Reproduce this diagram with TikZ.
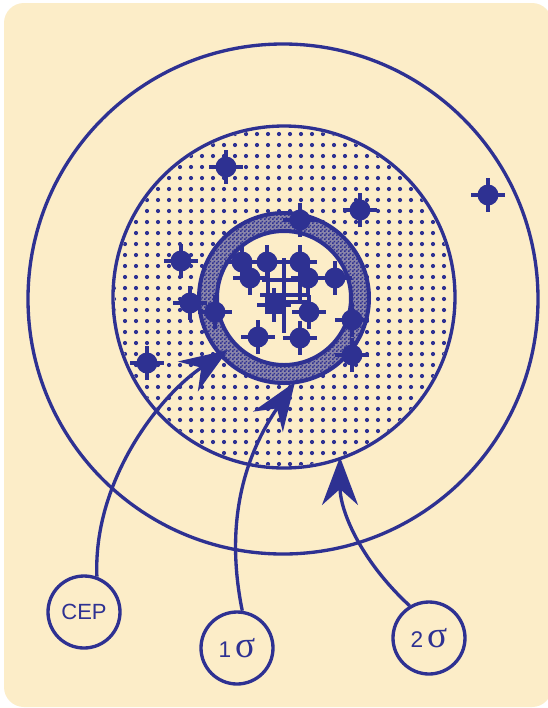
\documentclass[tikz,border=0pt]{standalone}
\usepackage{fontspec}
\setmainfont{Liberation Sans}
\newfontfamily\sigfont{Liberation Serif}
\usetikzlibrary{arrows.meta,patterns.meta}
\definecolor{cream}{HTML}{FCEDC8}
\definecolor{navy}{HTML}{2E3192}
\pgfdeclarepattern{
  name=checker,
  type=uncolored,
  bottom left={\pgfpoint{0pt}{0pt}},
  top right={\pgfpoint{3pt}{3pt}},
  tile size={\pgfpoint{3pt}{3pt}},
  code={
    \pgfpathrectangle{\pgfpoint{0pt}{0pt}}{\pgfpoint{1.5pt}{1.5pt}}
    \pgfpathrectangle{\pgfpoint{1.5pt}{1.5pt}}{\pgfpoint{1.5pt}{1.5pt}}
    \pgfusepath{fill}
  }
}
\tikzset{
  hit/.pic={
    \fill[navy] (0,0) circle[radius=10.5];
    \draw[navy,line width=2.4pt] (-17,0)--(17,0) (0,-17)--(0,17);
  },
  ringline/.style={draw=navy,line width=2.5pt},
  gridline/.style={draw=navy,line width=2.4pt},
  conn/.style={draw=navy,line width=2.5pt,-{Stealth[length=36pt,width=27pt,inset=12pt]}},
  lbl/.style={circle,draw=navy,line width=2.5pt,fill=cream,minimum size=54pt,inner sep=0pt,text=navy},
}
\begin{document}
\begin{tikzpicture}[x=0.75pt,y=-0.75pt]
\useasboundingbox (0,0) rectangle (548,708);
\fill[white] (0,0) rectangle (548,708);
\fill[cream,rounded corners=15pt] (4,3) rectangle (552,707);
\coordinate (c) at (284,298);
% outer 2-sigma circle
\draw[ringline] (283,299) circle[radius=255];
% dotted 1-sigma disk
\begin{scope}
  \clip (284,297) circle[radius=169];
  \foreach \i in {0,...,32}{
    \foreach \j in {0,...,32}{
      \fill[navy] (114+\i*11,123+\j*11) circle[radius=2.1];
    }
  }
\end{scope}
\draw[ringline] (284,297) circle[radius=171];
% CEP ring
\fill[navy!55!cream] (c) circle[radius=86];
\fill[pattern=checker,pattern color=navy,even odd rule] (c) circle[radius=86] (c) circle[radius=66];
\fill[cream] (c) circle[radius=66];
\draw[navy,line width=3pt] (c) circle[radius=85];
\draw[navy,line width=3pt] (c) circle[radius=67];
% grid at the centre
\draw[gridline] (284,258)--(284,333);
\draw[gridline] (268,272)--(268,297);
\draw[gridline] (300,245)--(300,303);
\draw[gridline] (262,280)--(303,280);
\draw[gridline] (260,295)--(308,295);
\draw[gridline] (283,302)--(310,302);
% square aim point
\fill[navy] (265,296) rectangle (283,314);
\draw[gridline] (274,288)--(274,322);
\draw[gridline] (257,305)--(291,305);
% hits
\foreach \p in {(226,167),(360,210),(488,195),(300,220),(181,261),(190,303),
  (147,363),(215,312),(242,262),(267,262),(300,262),(250,278),(308,278),
  (335,278),(309,312),(258,337),(300,338),(352,320),(352,355)}{
  \pic at \p {hit};
}
% labels
\node[lbl,font=\fontsize{16.5}{16.5}\selectfont] (cep) at (84,612) {CEP};
\node[lbl] (s1) at (237,648) {\fontsize{17}{17}\selectfont 1\,{\sigfont\fontsize{28}{28}\selectfont σ}};
\node[lbl] (s2) at (429,638) {\fontsize{17}{17}\selectfont 2\,{\sigfont\fontsize{28}{28}\selectfont σ}};
% arrow targets
\coordinate (tcep) at (228,350);
\coordinate (ts1) at (295,382);
\coordinate (ts2) at (340,457);
\draw[conn] (cep.70) .. controls (93,480) and (160,395) .. (tcep);
\draw[conn] (s1.82) .. controls (228,540) and (235,470) .. (ts1);
\draw[conn] (s2.121) .. controls (360,560) and (340,510) .. (ts2);
\end{tikzpicture}
\end{document}
